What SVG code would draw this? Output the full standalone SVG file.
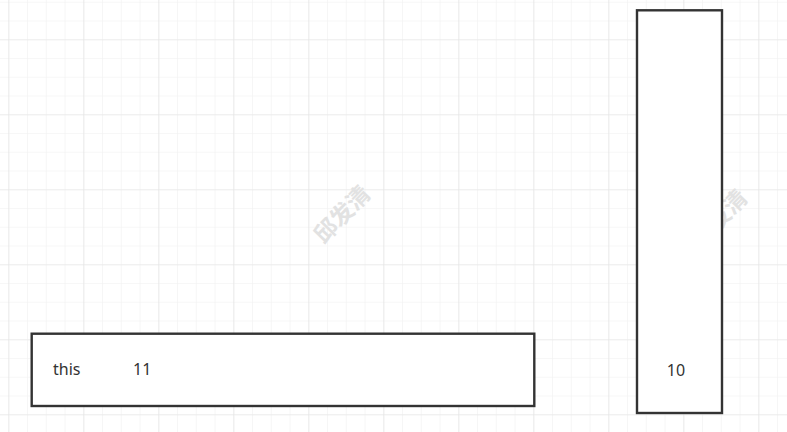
<svg xmlns="http://www.w3.org/2000/svg" width="787" height="432" viewBox="0 0 787 432">
<defs>
<pattern id="minor" x="8.3" y="1.8" width="18.75" height="18.75" patternUnits="userSpaceOnUse">
<path d="M0 0H18.75M0 0V18.75" fill="none" stroke="#f0f0f0" stroke-width="1.2"/>
</pattern>
<pattern id="major" x="8.3" y="39.3" width="75" height="75" patternUnits="userSpaceOnUse">
<path d="M0 0H75M0 0V75" fill="none" stroke="#e3e3e3" stroke-width="1.2"/>
</pattern>
</defs>
<style>
.box{fill:#ffffff;stroke:#333333;stroke-width:2.4}
.lbl{font-family:"Noto Sans","Liberation Sans",sans-serif;font-size:16px;fill:#333333}
.wm{font-family:"Noto Sans CJK SC",sans-serif;font-size:23px;font-weight:bold;fill:#e2e2e2}
</style>
<rect width="787" height="432" fill="#ffffff"/>
<rect width="787" height="432" fill="url(#minor)"/>
<rect width="787" height="432" fill="url(#major)"/>
<text class="wm" text-anchor="middle" transform="translate(348,220) rotate(-46)">邱发清</text>
<text class="wm" text-anchor="middle" transform="translate(725,224) rotate(-46)">邱发清</text>
<g id="connectors"></g>
<g id="node-this">
<rect class="box" x="31.7" y="333.7" width="502.6" height="72.3"/>
<text class="lbl" x="53" y="375">this</text>
<text class="lbl" x="133" y="375">11</text>
</g>
<g id="node-10">
<rect class="box" x="637" y="10.3" width="85" height="402.7"/>
<text class="lbl" x="676" y="376" text-anchor="middle">10</text>
</g>
</svg>
